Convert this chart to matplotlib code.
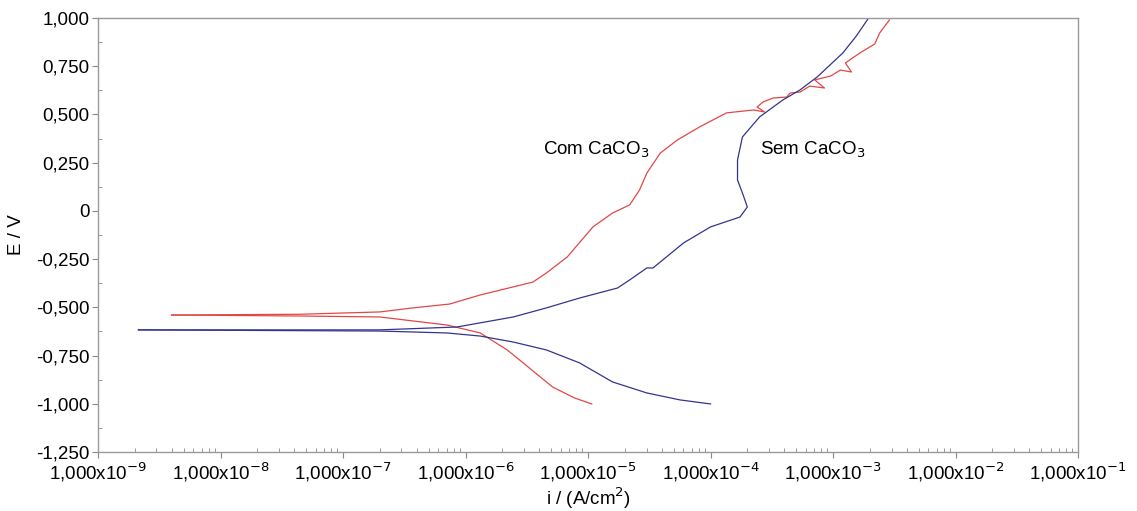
import numpy as np
import matplotlib
matplotlib.use('Agg')
import matplotlib.pyplot as plt
from matplotlib.ticker import FixedLocator, LogLocator, NullFormatter

plt.rcParams['font.family'] = ['Liberation Sans', 'DejaVu Sans']

# Com CaCO3 (red) - log10(i) and E
com_logi_an = [-8.40, -7.35, -6.70, -6.43, -6.13, -5.88, -5.45, -5.34, -5.17, -4.96, -4.80,
               -4.66, -4.58, -4.52, -4.41, -4.27, -4.09, -3.87, -3.65, -3.56, -3.62, -3.57,
               -3.49, -3.38, -3.35, -3.27, -3.19, -3.07, -3.15, -3.02, -2.94, -2.85, -2.90,
               -2.78, -2.70, -2.66, -2.62, -2.54]
com_E_an = [-0.540, -0.536, -0.524, -0.503, -0.483, -0.436, -0.369, -0.322, -0.239, -0.083, -0.011,
            0.031, 0.108, 0.196, 0.300, 0.368, 0.435, 0.508, 0.523, 0.513, 0.539, 0.565,
            0.585, 0.590, 0.611, 0.616, 0.647, 0.637, 0.679, 0.699, 0.730, 0.720, 0.767,
            0.819, 0.850, 0.865, 0.922, 0.990]
com_logi_cat = [-8.40, -7.35, -6.70, -6.15, -5.88, -5.66, -5.53, -5.29, -5.11, -4.97]
com_E_cat = [-0.540, -0.545, -0.550, -0.592, -0.633, -0.721, -0.788, -0.913, -0.970, -1.001]

# Sem CaCO3 (blue)
sem_logi_an = [-8.67, -6.70, -6.07, -5.61, -5.34, -5.07, -4.76, -4.66, -4.52, -4.47, -4.22,
               -4.00, -3.76, -3.70, -3.74, -3.78, -3.78, -3.74, -3.60, -3.41, -3.27, -3.13,
               -2.92, -2.81, -2.71]
sem_E_an = [-0.617, -0.617, -0.602, -0.550, -0.503, -0.452, -0.400, -0.358, -0.296, -0.296, -0.166,
            -0.083, -0.032, 0.020, 0.093, 0.160, 0.264, 0.383, 0.487, 0.575, 0.627, 0.694,
            0.819, 0.907, 1.000]
sem_logi_cat = [-8.67, -6.70, -6.15, -5.88, -5.61, -5.34, -5.07, -4.80, -4.52, -4.25, -4.00]
sem_E_cat = [-0.617, -0.623, -0.633, -0.649, -0.680, -0.721, -0.788, -0.887, -0.944, -0.980, -1.001]

y_ticks = [1.0, 0.75, 0.5, 0.25, 0, -0.25, -0.5, -0.75, -1.0, -1.25]
y_labels = ['1,000', '0,750', '0,500', '0,250', '0', '-0,250', '-0,500', '-0,750', '-1,000', '-1,250']
x_exps = [-9, -8, -7, -6, -5, -4, -3, -2, -1]

red = '#e04848'
blue = '#34348f'

fig = plt.figure(figsize=(11.37, 5.11), dpi=100)
ax = fig.add_axes([0.0862, 0.1155, 0.8620, 0.8493])

ax.plot(10 ** np.array(com_logi_an), com_E_an, color=red, lw=0.9)
ax.plot(10 ** np.array(com_logi_cat), com_E_cat, color=red, lw=0.9)
ax.plot(10 ** np.array(sem_logi_an), sem_E_an, color=blue, lw=0.9)
ax.plot(10 ** np.array(sem_logi_cat), sem_E_cat, color=blue, lw=0.9)

ax.set_xscale('log')
ax.set_xlim(1e-9, 1e-1)
ax.set_ylim(-1.25, 1.0)

ax.set_yticks(y_ticks)
ax.set_yticklabels(y_labels, fontsize=13.5)
ax.yaxis.set_minor_locator(FixedLocator(np.arange(-1.25, 1.0, 0.125)))

ax.set_xticks([10.0 ** e for e in x_exps])
ax.set_xticklabels(['1,000x10$^{%d}$' % e for e in x_exps], fontsize=13.5)
ax.xaxis.set_minor_locator(LogLocator(base=10, subs=np.arange(2, 10), numticks=100))
ax.xaxis.set_minor_formatter(NullFormatter())

ax.tick_params(which='major', direction='out', length=4, color='#888888', pad=2)
ax.tick_params(which='minor', direction='in', length=3, color='#888888')
for s in ax.spines.values():
    s.set_color('#999999')
    s.set_linewidth(1.0)

ax.set_xlabel('i / (A/cm$^2$)', fontsize=13.5, labelpad=1)
ax.set_ylabel('E / V', fontsize=13.5, labelpad=8)

ax.text(10 ** -4.93, 0.316, 'Com CaCO$_3$', fontsize=13.5, ha='center', va='center')
ax.text(10 ** -3.17, 0.316, 'Sem CaCO$_3$', fontsize=13.5, ha='center', va='center')

fig.savefig('out.png', dpi=100)
